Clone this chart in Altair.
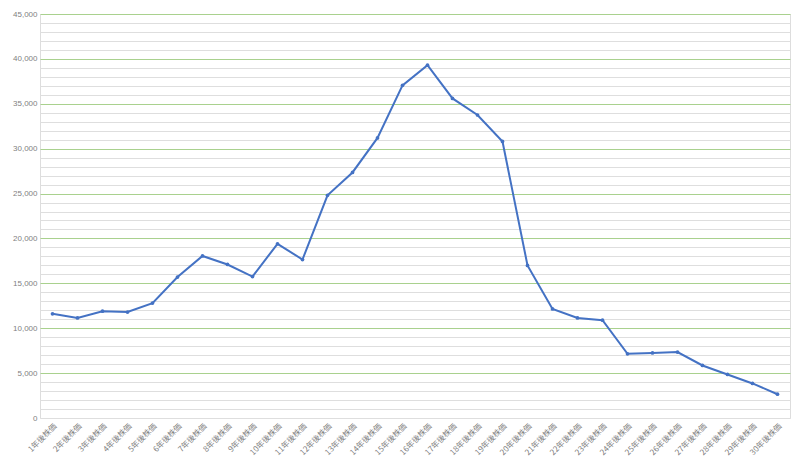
import altair as alt
import pandas as pd

categories = [f"{i}年後株価" for i in range(1, 31)]
values = [11600, 11150, 11900, 11800, 12800, 15700, 18050, 17100, 15750, 19400,
          17650, 24800, 27350, 31200, 37050, 39300, 35600, 33750, 30800, 17000,
          12150, 11150, 10900, 7150, 7250, 7350, 5850, 4850, 3850, 2650]

df = pd.DataFrame({"cat": categories, "val": values})

grid_values = list(range(0, 45001, 1000))

base = alt.Chart(df).encode(
    x=alt.X("cat:O", sort=categories, title=None,
            axis=alt.Axis(labelAngle=-45, labelAlign="right", labelBaseline="top",
                          labelFontSize=8, labelColor="#7F7F7F", ticks=False,
                          domain=False, grid=False, labelPadding=4,
                          labelFont="Noto Sans CJK JP")),
    y=alt.Y("val:Q", title=None,
            scale=alt.Scale(domain=[0, 45000], nice=False),
            axis=alt.Axis(values=grid_values, grid=True,
                          gridColor={"condition": {"test": "datum.value % 5000 === 0 && datum.value > 0", "value": "#A9D18E"}, "value": "#DEDEDE"},
                          gridWidth=1,
                          labelExpr="datum.value % 5000 === 0 ? datum.label : ''",
                          labelFontSize=8, labelColor="#7F7F7F", ticks=False,
                          domain=False, labelPadding=3, labelFont="Liberation Sans")),
)

line = base.mark_line(color="#4472C4", strokeWidth=2)
pts = base.mark_point(color="#4472C4", filled=True, size=14, opacity=1)

chart = (line + pts).properties(
    width=750, height=404,
    autosize=alt.AutoSizeParams(type="none"),
    padding={"left": 32, "top": 6, "right": 2, "bottom": 44},
).configure_view(strokeWidth=0).configure(background="white")

chart.save("out.html", embed_options={"renderer": "svg", "actions": False})
